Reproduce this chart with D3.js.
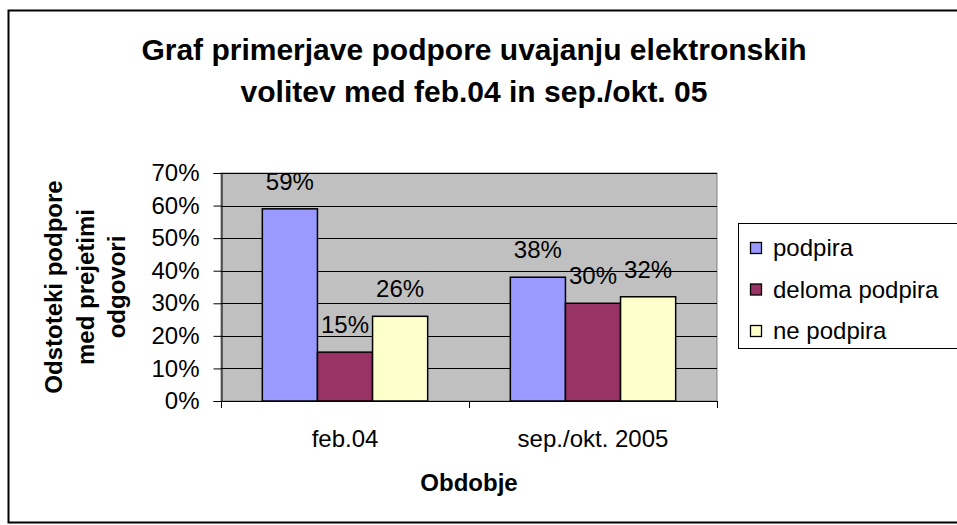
<!DOCTYPE html>
<html>
<head>
<meta charset="utf-8">
<script src="https://cdn.jsdelivr.net/npm/d3@7"></script>
<style>
  body { margin: 0; background: #fff; }
  svg { display: block; font-family: "Liberation Sans", Arial, sans-serif; }
</style>
</head>
<body>
<div class="js-chart"></div>
<script>
// data
const categories = ["feb.04", "sep./okt. 2005"];
const seriesNames = ["podpira", "deloma podpira", "ne podpira"];
const podpira = [0.59, 0.38];
const delomaPodpira = [0.15, 0.30];
const nePodpira = [0.26, 0.32];
const yTicks = [0, 0.1, 0.2, 0.3, 0.4, 0.5, 0.6, 0.7];
const titleLines = ["Graf primerjave podpore uvajanju elektronskih", "volitev med feb.04 in sep./okt. 05"];
const yTitleLines = ["Odstoteki podpore", "med prejetimi", "odgovori"];
const xTitle = "Obdobje";

const colors = ["#9999ff", "#993366", "#ffffcc"];

const width = 957
    , height = 525
    , plot = {left: 221, right: 717, top: 173, bottom: 401}
    , fontSize = 24
    ;

const rows = categories.map((c, i) => ({
  category: c,
  values: [podpira[i], delomaPodpira[i], nePodpira[i]]
}));

const svg = d3.select(".js-chart")
  .append("svg")
  .attr("width", width)
  .attr("height", height);

// outer chart border
svg.append("rect")
  .attr("x", 8.5).attr("y", 10.5)
  .attr("width", 960).attr("height", 512)
  .attr("fill", "#fff")
  .attr("stroke", "#000")
  .attr("stroke-width", 2);

const x = d3.scaleBand()
  .domain(categories)
  .range([plot.left, plot.right])
  .padding(0);

const xInner = d3.scaleBand()
  .domain(seriesNames)
  .range([0, x.bandwidth()])
  .paddingInner(0)
  .paddingOuter(0.75);

const y = d3.scaleLinear()
  .domain([0, 0.7])
  .range([plot.bottom, plot.top]);

// plot area
svg.append("rect")
  .attr("x", plot.left).attr("y", plot.top)
  .attr("width", plot.right - plot.left).attr("height", plot.bottom - plot.top)
  .attr("fill", "#c0c0c0")
  .attr("stroke", "#808080");

// gridlines
svg.append("g")
  .selectAll("line")
  .data(yTicks.slice(1))
  .join("line")
    .attr("x1", plot.left).attr("x2", plot.right)
    .attr("y1", d => Math.round(y(d)) + 0.5).attr("y2", d => Math.round(y(d)) + 0.5)
    .attr("stroke", "#000");

// y axis
const yAxis = svg.append("g")
  .attr("transform", `translate(${plot.left + 0.5},0)`)
  .call(d3.axisLeft(y).tickValues(yTicks).tickFormat(d3.format(".0%")).tickSize(8).tickPadding(14));
yAxis.select(".domain").attr("stroke", "#000");
yAxis.selectAll("text")
  .attr("font-size", fontSize).attr("fill", "#000")
  .attr("font-family", "Liberation Sans, Arial, sans-serif");

// x axis: ticks at category boundaries
svg.append("line")
  .attr("x1", plot.left).attr("x2", plot.right)
  .attr("y1", plot.bottom + 0.5).attr("y2", plot.bottom + 0.5)
  .attr("stroke", "#000");
svg.append("g")
  .selectAll("line")
  .data([plot.left, ...categories.map(c => x(c) + x.bandwidth())])
  .join("line")
    .attr("x1", d => Math.round(d) + 0.5).attr("x2", d => Math.round(d) + 0.5)
    .attr("y1", plot.bottom).attr("y2", plot.bottom + 7)
    .attr("stroke", "#000");
svg.append("g")
  .selectAll("text")
  .data(categories)
  .join("text")
    .attr("x", d => x(d) + x.bandwidth() / 2)
    .attr("y", 447)
    .attr("text-anchor", "middle")
    .attr("font-size", fontSize)
    .text(d => d);

// bars
const groups = svg.append("g")
  .selectAll("g")
  .data(rows)
  .join("g")
    .attr("transform", d => `translate(${x(d.category)},0)`);

groups.selectAll("rect")
  .data(d => d.values.map((v, i) => ({name: seriesNames[i], value: v, i})))
  .join("rect")
    .attr("x", d => xInner(d.name))
    .attr("y", d => y(d.value))
    .attr("width", xInner.bandwidth())
    .attr("height", d => plot.bottom - y(d.value))
    .attr("fill", d => colors[d.i])
    .attr("stroke", "#000")
    .attr("stroke-width", 1.5);

groups.selectAll("text")
  .data(d => d.values.map((v, i) => ({name: seriesNames[i], value: v})))
  .join("text")
    .attr("x", d => xInner(d.name) + xInner.bandwidth() / 2)
    .attr("y", d => y(d.value) - 19)
    .attr("text-anchor", "middle")
    .attr("font-size", fontSize)
    .text(d => d3.format(".0%")(d.value));

// title
svg.append("text")
  .attr("text-anchor", "middle")
  .attr("font-size", 30)
  .attr("font-weight", "bold")
  .selectAll("tspan")
  .data(titleLines)
  .join("tspan")
    .attr("x", 474)
    .attr("y", (d, i) => 60 + i * 42)
    .text(d => d);

// y axis title
svg.append("text")
  .attr("transform", `translate(0,${(plot.top + plot.bottom) / 2}) rotate(-90)`)
  .attr("text-anchor", "middle")
  .attr("font-size", fontSize)
  .attr("font-weight", "bold")
  .selectAll("tspan")
  .data(yTitleLines)
  .join("tspan")
    .attr("x", 0)
    .attr("y", (d, i) => 62 + i * 31.5)
    .text(d => d);

// x axis title
svg.append("text")
  .attr("x", (plot.left + plot.right) / 2)
  .attr("y", 491)
  .attr("text-anchor", "middle")
  .attr("font-size", fontSize)
  .attr("font-weight", "bold")
  .text(xTitle);

// legend
const legend = svg.append("g");
legend.append("rect")
  .attr("x", 738.5).attr("y", 223.5)
  .attr("width", 230).attr("height", 125)
  .attr("fill", "#fff")
  .attr("stroke", "#000");

const legendItem = legend.selectAll("g")
  .data(seriesNames)
  .join("g")
    .attr("transform", (d, i) => `translate(750,${248 + i * 41.5})`);
legendItem.append("rect")
  .attr("x", 0.5).attr("y", -5.5)
  .attr("width", 11).attr("height", 11)
  .attr("fill", (d, i) => colors[i])
  .attr("stroke", "#000")
  .attr("stroke-width", 1.3);
legendItem.append("text")
  .attr("x", 23)
  .attr("y", 8)
  .attr("font-size", fontSize)
  .text(d => d);
</script>
</body>
</html>
